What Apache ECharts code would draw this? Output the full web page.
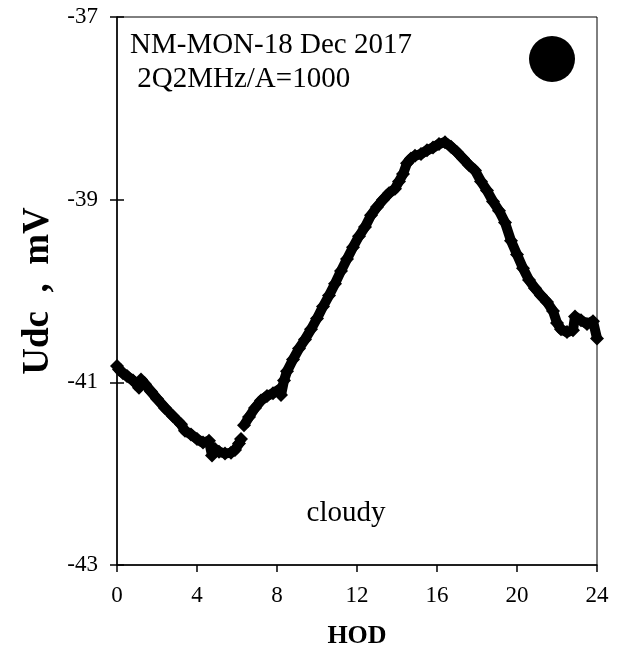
<!DOCTYPE html>
<html>
<head>
<meta charset="utf-8">
<script src="https://cdn.jsdelivr.net/npm/echarts@6/dist/echarts.min.js"></script>
<style>
html,body{margin:0;padding:0;background:#fff;}
#c{width:617px;height:654px;}
</style>
</head>
<body>
<div id="c"></div>
<script>
// Hour of day (HOD) and Udc (mV); null marks a gap in the record
var hod = [0.0,0.1,0.3,0.5,0.8,1.0,1.1,1.2,1.4,1.7,2.0,2.4,2.8,3.2,3.4,3.7,4.0,4.3,4.6,4.75,4.9,5.1,5.4,5.7,5.9,6.1,6.2,
  6.25,
  6.35,6.6,6.9,7.2,7.5,7.8,8.1,8.2,8.35,8.5,8.8,9.1,9.4,9.7,10.0,10.3,10.6,10.9,11.2,11.5,11.8,12.1,12.4,12.7,13.0,13.3,13.6,13.9,14.1,14.3,14.5,14.7,14.9,15.2,15.5,15.8,16.1,16.4,16.7,17.0,17.3,17.6,17.9,18.2,18.5,18.8,19.1,19.4,19.7,20.0,20.3,20.6,20.9,21.2,21.5,21.8,22.0,22.2,22.5,22.8,22.9,23.2,23.5,23.8,24.0];
var udc = [-40.82,-40.86,-40.90,-40.93,-40.98,-41.02,-41.06,-40.97,-41.02,-41.10,-41.18,-41.28,-41.37,-41.46,-41.53,-41.57,-41.62,-41.66,-41.64,-41.80,-41.73,-41.76,-41.78,-41.77,-41.74,-41.67,-41.62,
  null,
  -41.47,-41.38,-41.28,-41.20,-41.15,-41.12,-41.08,-41.14,-40.98,-40.88,-40.75,-40.63,-40.53,-40.42,-40.30,-40.17,-40.05,-39.92,-39.78,-39.65,-39.52,-39.40,-39.30,-39.17,-39.08,-39.00,-38.93,-38.88,-38.80,-38.72,-38.60,-38.55,-38.52,-38.50,-38.46,-38.43,-38.39,-38.37,-38.42,-38.48,-38.55,-38.62,-38.68,-38.80,-38.90,-39.02,-39.12,-39.25,-39.45,-39.60,-39.75,-39.88,-39.97,-40.05,-40.12,-40.22,-40.35,-40.42,-40.45,-40.43,-40.28,-40.32,-40.36,-40.33,-40.52];
var xTicks = [0,4,8,12,16,20,24];
var yTicks = [-43,-41,-39,-37];
var titleLines = ['NM-MON-18 Dec 2017', ' 2Q2MHz/A=1000'];
var noteText = 'cloudy';
var xName = 'HOD';
var yName = 'Udc  ,  mV';

var pts = hod.map(function(h,i){ return [h, udc[i] === null ? '-' : udc[i]]; });
var font = 'Liberation Serif';
var chart = echarts.init(document.getElementById('c'), null, {renderer:'canvas'});

var yBase = {
  type:'value', min:yTicks[0], max:yTicks[yTicks.length-1], interval:2, position:'left',
  splitLine:{show:false}
};

chart.setOption({
  animation:false,
  backgroundColor:'#fff',
  grid:{left:117, top:17, right:20, bottom:87, show:true, borderColor:'#000', borderWidth:1},
  xAxis:{
    type:'value', min:xTicks[0], max:xTicks[xTicks.length-1], interval:4,
    name:xName, nameLocation:'middle', nameGap:58,
    nameTextStyle:{fontFamily:font, fontWeight:'bold', fontSize:26, color:'#000'},
    axisLine:{lineStyle:{color:'#000', width:1.5}},
    axisTick:{length:7, lineStyle:{color:'#000', width:1.5}},
    axisLabel:{margin:19, fontFamily:font, fontSize:23, color:'#000'},
    splitLine:{show:false}
  },
  yAxis:[
    Object.assign({}, yBase, {
      name:yName, nameLocation:'middle', nameGap:60,
      nameTextStyle:{fontFamily:font, fontWeight:'bold', fontSize:37, color:'#000', whiteSpace:'pre'},
      axisLine:{lineStyle:{color:'#000', width:1.5}},
      axisTick:{length:7, lineStyle:{color:'#000', width:1.5}},
      axisLabel:{margin:19, fontFamily:font, fontSize:23, color:'#000'}
    }),
    Object.assign({}, yBase, {
      axisLine:{show:false},
      axisTick:{inside:true, length:7, lineStyle:{color:'#000', width:1.5}},
      axisLabel:{show:false}
    })
  ],
  series:[{
    type:'line', data:pts, connectNulls:false,
    symbol:'diamond', symbolSize:14, showSymbol:true, showAllSymbol:true,
    lineStyle:{color:'#000', width:10},
    itemStyle:{color:'#000'},
    z:3
  }],
  graphic:[
    {type:'text', left:130, top:31, style:{text:titleLines[0], fontFamily:font, fontSize:29, fill:'#000'}},
    {type:'text', left:130, top:65, style:{text:titleLines[1], fontFamily:font, fontSize:29, fill:'#000', whiteSpace:'pre'}},
    {type:'text', x:346, y:513, style:{text:noteText, fontFamily:font, fontSize:29, fill:'#000', align:'center', verticalAlign:'middle'}},
    {type:'circle', shape:{cx:552, cy:59, r:23}, style:{fill:'#000'}}
  ]
});
</script>
</body>
</html>
